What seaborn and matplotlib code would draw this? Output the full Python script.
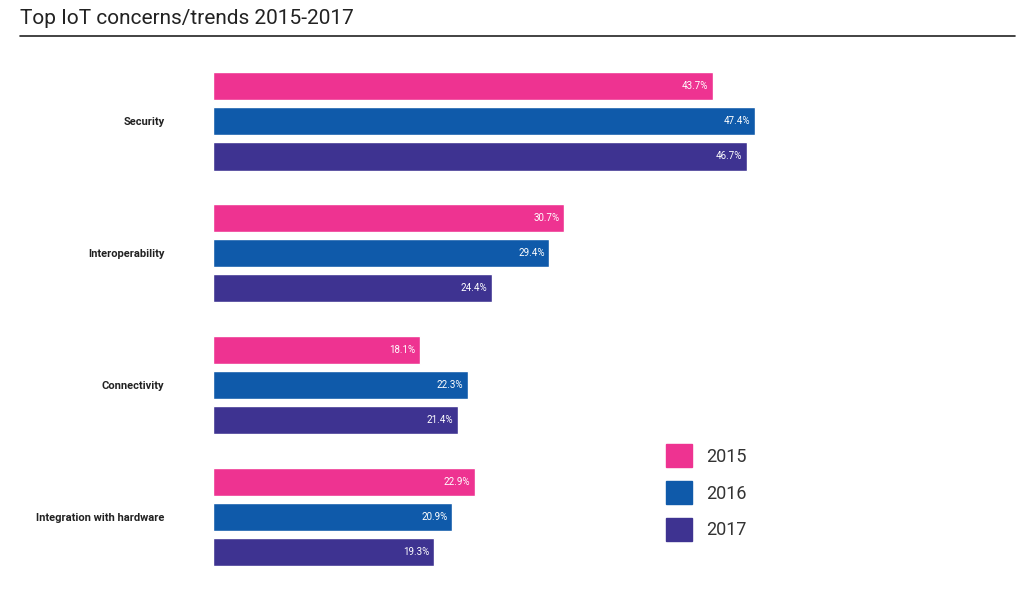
import matplotlib
matplotlib.use("Agg")
import matplotlib.pyplot as plt
import seaborn as sns
import pandas as pd
from matplotlib.patches import Patch

categories = ["Security", "Interoperability", "Connectivity", "Integration with hardware"]
years = ["2015", "2016", "2017"]
v2015 = [43.7, 30.7, 18.1, 22.9]
v2016 = [47.4, 29.4, 22.3, 20.9]
v2017 = [46.7, 24.4, 21.4, 19.3]
colors = ["#EE3391", "#0F5AAA", "#3E3391"]

rows = []
for yr, vals in zip(years, [v2015, v2016, v2017]):
    for c, v in zip(categories, vals):
        rows.append({"cat": c, "year": yr, "val": v})
df = pd.DataFrame(rows)

sns.set_style("white")
plt.rcParams['font.family'] = ['Roboto', 'DejaVu Sans']
fig = plt.figure(figsize=(10.24, 5.93), dpi=100)
ax = fig.add_axes([213/1024, 0.0277, 686/1024, 0.868])
sns.barplot(data=df, y="cat", x="val", hue="year", palette=colors, orient="h",
            width=0.8, gap=0.2, saturation=1, ax=ax, legend=False)
ax.set_xlim(0, 60)
ax.set_ylim(3.45, -0.45)
for cont in ax.containers:
    for p, v in zip(cont.patches, cont.datavalues):
        ax.text(v - 0.4, p.get_y() + p.get_height() / 2, f"{v:.1f}%",
                color="white", fontsize=7, ha="right", va="center")
ax.set_xlabel(""); ax.set_ylabel("")
ax.set_xticks([])
ax.set_yticks(range(4))
ax.set_yticklabels(categories, fontsize=8, fontweight="bold", color="#222222")
ax.tick_params(axis="y", length=0, pad=35)
for s in ax.spines.values():
    s.set_visible(False)

fig.text(20/1024, 1-18/593, "Top IoT concerns/trends 2015-2017", fontsize=15,
         color="#222222", va="center", ha="left")
fig.add_artist(plt.Line2D([20/1024, 1015/1024], [1-36/593]*2, color="#222222", lw=1.2))

handles = [Patch(color=c, label=y) for c, y in zip(colors, years)]
fig.legend(handles=handles, loc="upper left", bbox_to_anchor=(650/1024, 1-428/593),
           frameon=False, fontsize=13, handlelength=1.4, handleheight=1.6,
           labelspacing=0.75, handletextpad=0.8, labelcolor="#333333")
fig.savefig("out.png", dpi=100)
